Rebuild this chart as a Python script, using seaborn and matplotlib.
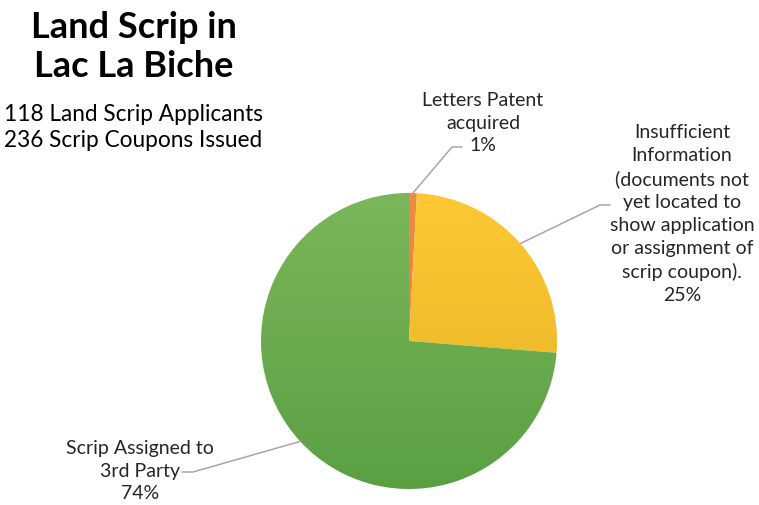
"""Land scrip outcomes in Lac La Biche, as a pie chart."""
import matplotlib
matplotlib.use("Agg")
import matplotlib.pyplot as plt
import numpy as np
import seaborn as sns
from matplotlib.colors import LinearSegmentedColormap

W, H = 759, 505  # the axes work in pixel units, y measured from the top

categories = [
    "Letters Patent\nacquired",
    "Insufficient\nInformation\n(documents not\nyet located to\nshow application\nor assignment of\nscrip coupon).",
    "Scrip Assigned to\n3rd Party",
]
coupons = [2, 60, 174]
applicants = 118

colors_top = ["#F08B45", "#FFC833", "#7BB65A"]
colors_bottom = ["#E2782C", "#E2B226", "#5AA043"]

CENTER = (409, 341)
RADIUS = 148
# label anchor, elbow and end of each leader line, in pixels
LABEL_XY = [(483, 123), (682, 214), (140, 471)]
ELBOW_XY = [(452, 147), (600, 205), (193, 472)]
END_XY = [(462, 147), (610, 205), (182, 472)]
FONT = "Lato"


def yflip(y):
    return H - y


sns.set_style("white")
plt.rcParams["font.family"] = [FONT, "DejaVu Sans"]

fig = plt.figure(figsize=(W / 100, H / 100), dpi=100)
ax = fig.add_axes([0, 0, 1, 1])

total = sum(coupons)
cx, cy = CENTER[0], yflip(CENTER[1])
wedges, _ = ax.pie(
    coupons, colors=colors_top, startangle=90, counterclock=False,
    center=(cx, cy), radius=RADIUS,
    wedgeprops=dict(edgecolor="white", linewidth=0.8),
)

# Excel-style vertical gradient inside each wedge
for wedge, top, bottom in zip(wedges, colors_top, colors_bottom):
    cmap = LinearSegmentedColormap.from_list("g", [bottom, top])
    grad = np.linspace(0, 1, 256).reshape(-1, 1)
    im = ax.imshow(
        grad, cmap=cmap, origin="lower", aspect="auto",
        extent=[cx - RADIUS, cx + RADIUS, cy - RADIUS, cy + RADIUS],
        zorder=wedge.get_zorder() + 0.1,
    )
    im.set_clip_path(wedge)

for wedge, cat, n, lab, elbow, end in zip(
    wedges, categories, coupons, LABEL_XY, ELBOW_XY, END_XY
):
    mid = np.deg2rad((wedge.theta1 + wedge.theta2) / 2)
    sx = cx + RADIUS * np.cos(mid)
    sy = cy + RADIUS * np.sin(mid)
    ax.plot(
        [sx, elbow[0], end[0]], [sy, yflip(elbow[1]), yflip(end[1])],
        color="#A6A6A6", linewidth=1.1, zorder=5,
    )
    pct = round(100 * n / total)
    ax.text(
        lab[0], yflip(lab[1]), f"{cat}\n{pct}%",
        ha="center", va="center", multialignment="center",
        fontsize=14, color="#262626", linespacing=1.42,
    )

ax.text(134, yflip(38), "Land Scrip in", ha="center", va="baseline",
        fontsize=26, fontweight="bold", color="black")
ax.text(134, yflip(77), "Lac La Biche", ha="center", va="baseline",
        fontsize=26, fontweight="bold", color="black")
ax.text(4, yflip(121), f"{applicants} Land Scrip Applicants",
        ha="left", va="baseline", fontsize=16.3, color="black")
ax.text(4, yflip(147), f"{total} Scrip Coupons Issued",
        ha="left", va="baseline", fontsize=16.3, color="black")

ax.set_xlim(0, W)
ax.set_ylim(0, H)
ax.set_aspect("equal")
ax.axis("off")

fig.savefig("out.png", dpi=100)
plt.close(fig)
